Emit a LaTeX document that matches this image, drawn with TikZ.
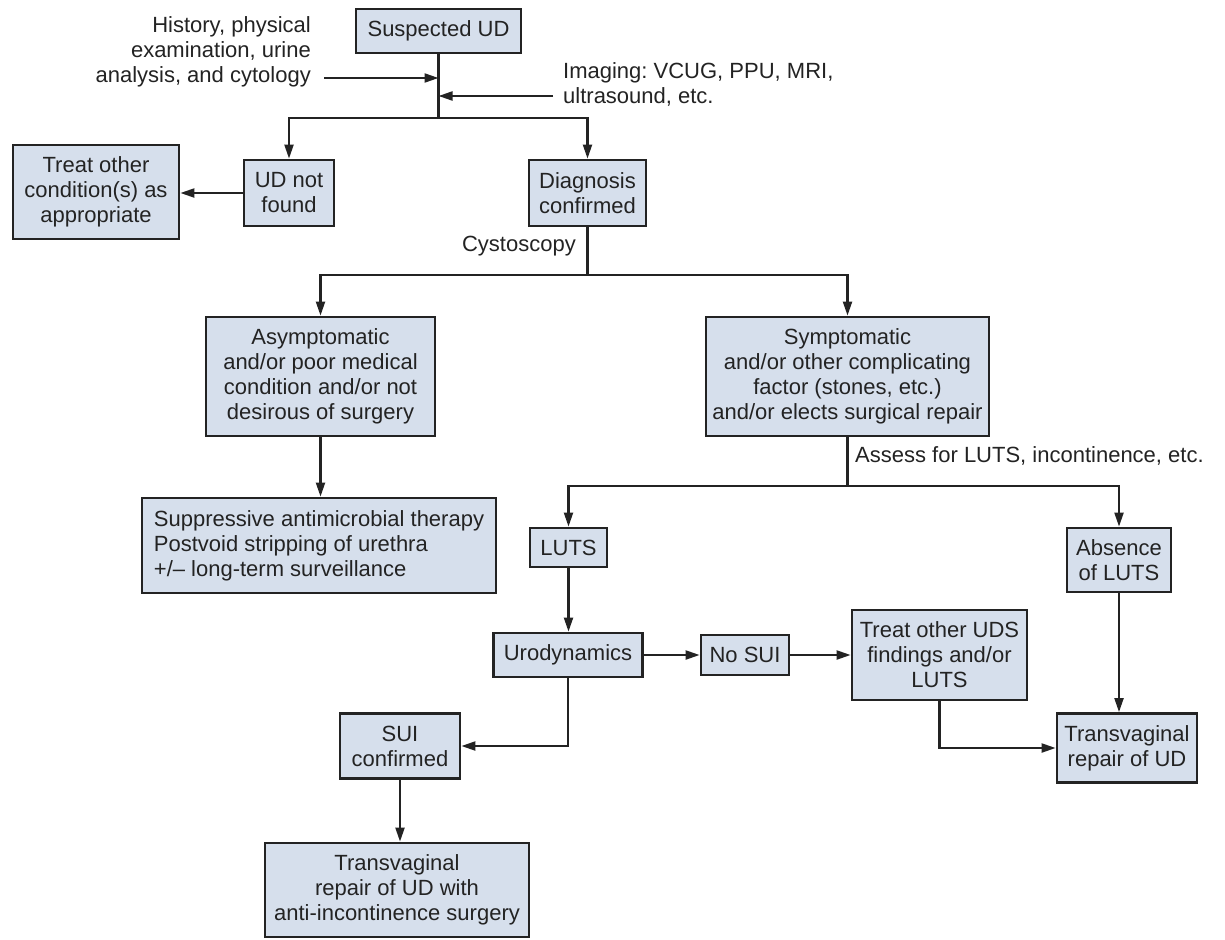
\documentclass[tikz,border=0pt]{standalone}
\usepackage{fontspec}
\setmainfont{Liberation Sans}
\usetikzlibrary{arrows.meta}
\definecolor{boxfill}{RGB}{214,223,236}
\definecolor{ink}{RGB}{35,35,35}
\frenchspacing
\begin{document}
\begin{tikzpicture}[x=1pt,y=-1pt,
  every node/.style={text=ink, font=\fontsize{22}{25}\selectfont},
  flowbox/.style={draw=ink, line width=2.8pt, fill=boxfill, inner sep=0pt, align=center},
  lbl/.style={inner sep=0pt},
  conn/.style={draw=ink, line width=2.1pt},
  arr/.style={conn, -{Triangle[length=14pt,width=9pt]}}]
\useasboundingbox (0,0) rectangle (1225,939);
\fill[white] (0,0) rectangle (1225,939);

% boxes
\node[flowbox, minimum width=165, minimum height=44] (sud) at (438.5,31) {Suspected UD};
\node[flowbox, minimum width=90, minimum height=66] (udnf) at (289,193) {UD not\\found};
\node[flowbox, minimum width=166, minimum height=94] (treat) at (96,192) {Treat other\\condition(s) as\\appropriate};
\node[flowbox, minimum width=117, minimum height=66] (diag) at (587.5,193) {Diagnosis\\confirmed};
\node[flowbox, minimum width=229, minimum height=119] (asym) at (320.5,376.5) {Asymptomatic\\and/or poor medical\\condition and/or not\\desirous of surgery};
\node[flowbox, minimum width=283, minimum height=119] (symp) at (847.5,376.5) {Symptomatic\\and/or other complicating\\factor (stones, etc.)\\and/or elects surgical repair};
\node[flowbox, minimum width=354, minimum height=95, align=left] (supp) at (319,545.5) {Suppressive antimicrobial therapy\\Postvoid stripping of urethra\\+/\textendash{} long-term surveillance};
\node[flowbox, minimum width=77, minimum height=39] (luts) at (568.5,547.5) {LUTS};
\node[flowbox, minimum width=104, minimum height=64] (absence) at (1119,560) {Absence\\of LUTS};
\node[flowbox, minimum width=149, minimum height=44] (uro) at (568,655) {Urodynamics};
\node[flowbox, minimum width=88, minimum height=40] (nosui) at (745,655) {No SUI};
\node[flowbox, minimum width=175, minimum height=90] (treatuds) at (939.5,655) {Treat other UDS\\findings and/or\\LUTS};
\node[flowbox, minimum width=120, minimum height=65] (sui) at (400,746) {SUI\\confirmed};
\node[flowbox, minimum width=140, minimum height=69] (tvud) at (1127,748) {Transvaginal\\repair of UD};
\node[flowbox, minimum width=264, minimum height=94] (tvanti) at (397,890) {Transvaginal\\repair of UD with\\anti-incontinence surgery};

% labels
\node[lbl, anchor=east, align=right] (hist) at (311,52) {History, physical\\examination, urine\\analysis, and cytology};
\node[lbl, anchor=west, align=left] (imag) at (563,84) {Imaging: VCUG, PPU, MRI,\\ultrasound, etc.};
\node[lbl, anchor=east] (cysto) at (576,246) {Cystoscopy};
\node[lbl, anchor=west] (assess) at (855,456) {Assess for LUTS, incontinence, etc.};

% junctions
\coordinate (j1) at (438.5,118);
\coordinate (h1) at (324,78);
\coordinate (h2) at (438.5,78);
\coordinate (i1) at (553,96);
\coordinate (i2) at (438.5,96);
\coordinate (j2) at (587.5,275);
\coordinate (j3) at (847.5,486);

% connectors
\draw[conn] (sud.south) -- (j1);
\draw[arr] (h1) -- (h2);
\draw[arr] (i1) -- (i2);
\draw[arr] (j1) -| (udnf.north);
\draw[arr] (j1) -| (diag.north);
\draw[arr] (udnf.west) -- (treat.east |- udnf.west);
\draw[conn] (diag.south) -- (j2);
\draw[arr] (j2) -| (asym.north);
\draw[arr] (j2) -| (symp.north);
\draw[arr] (asym.south) -- (asym.south |- supp.north);
\draw[conn] (symp.south) -- (j3);
\draw[arr] (j3) -| (luts.north);
\draw[arr] (j3) -| (absence.north);
\draw[arr] (luts.south) -- (luts.south |- uro.north);
\draw[arr] (uro.east) -- (nosui.west);
\draw[arr] (nosui.east) -- (treatuds.west);
\draw[arr] (uro.south) |- (sui.east);
\draw[arr] (sui.south) -- (sui.south |- tvanti.north);
\draw[arr] (treatuds.south) |- (tvud.west);
\draw[arr] (absence.south) -- (absence.south |- tvud.north);
\end{tikzpicture}
\end{document}
